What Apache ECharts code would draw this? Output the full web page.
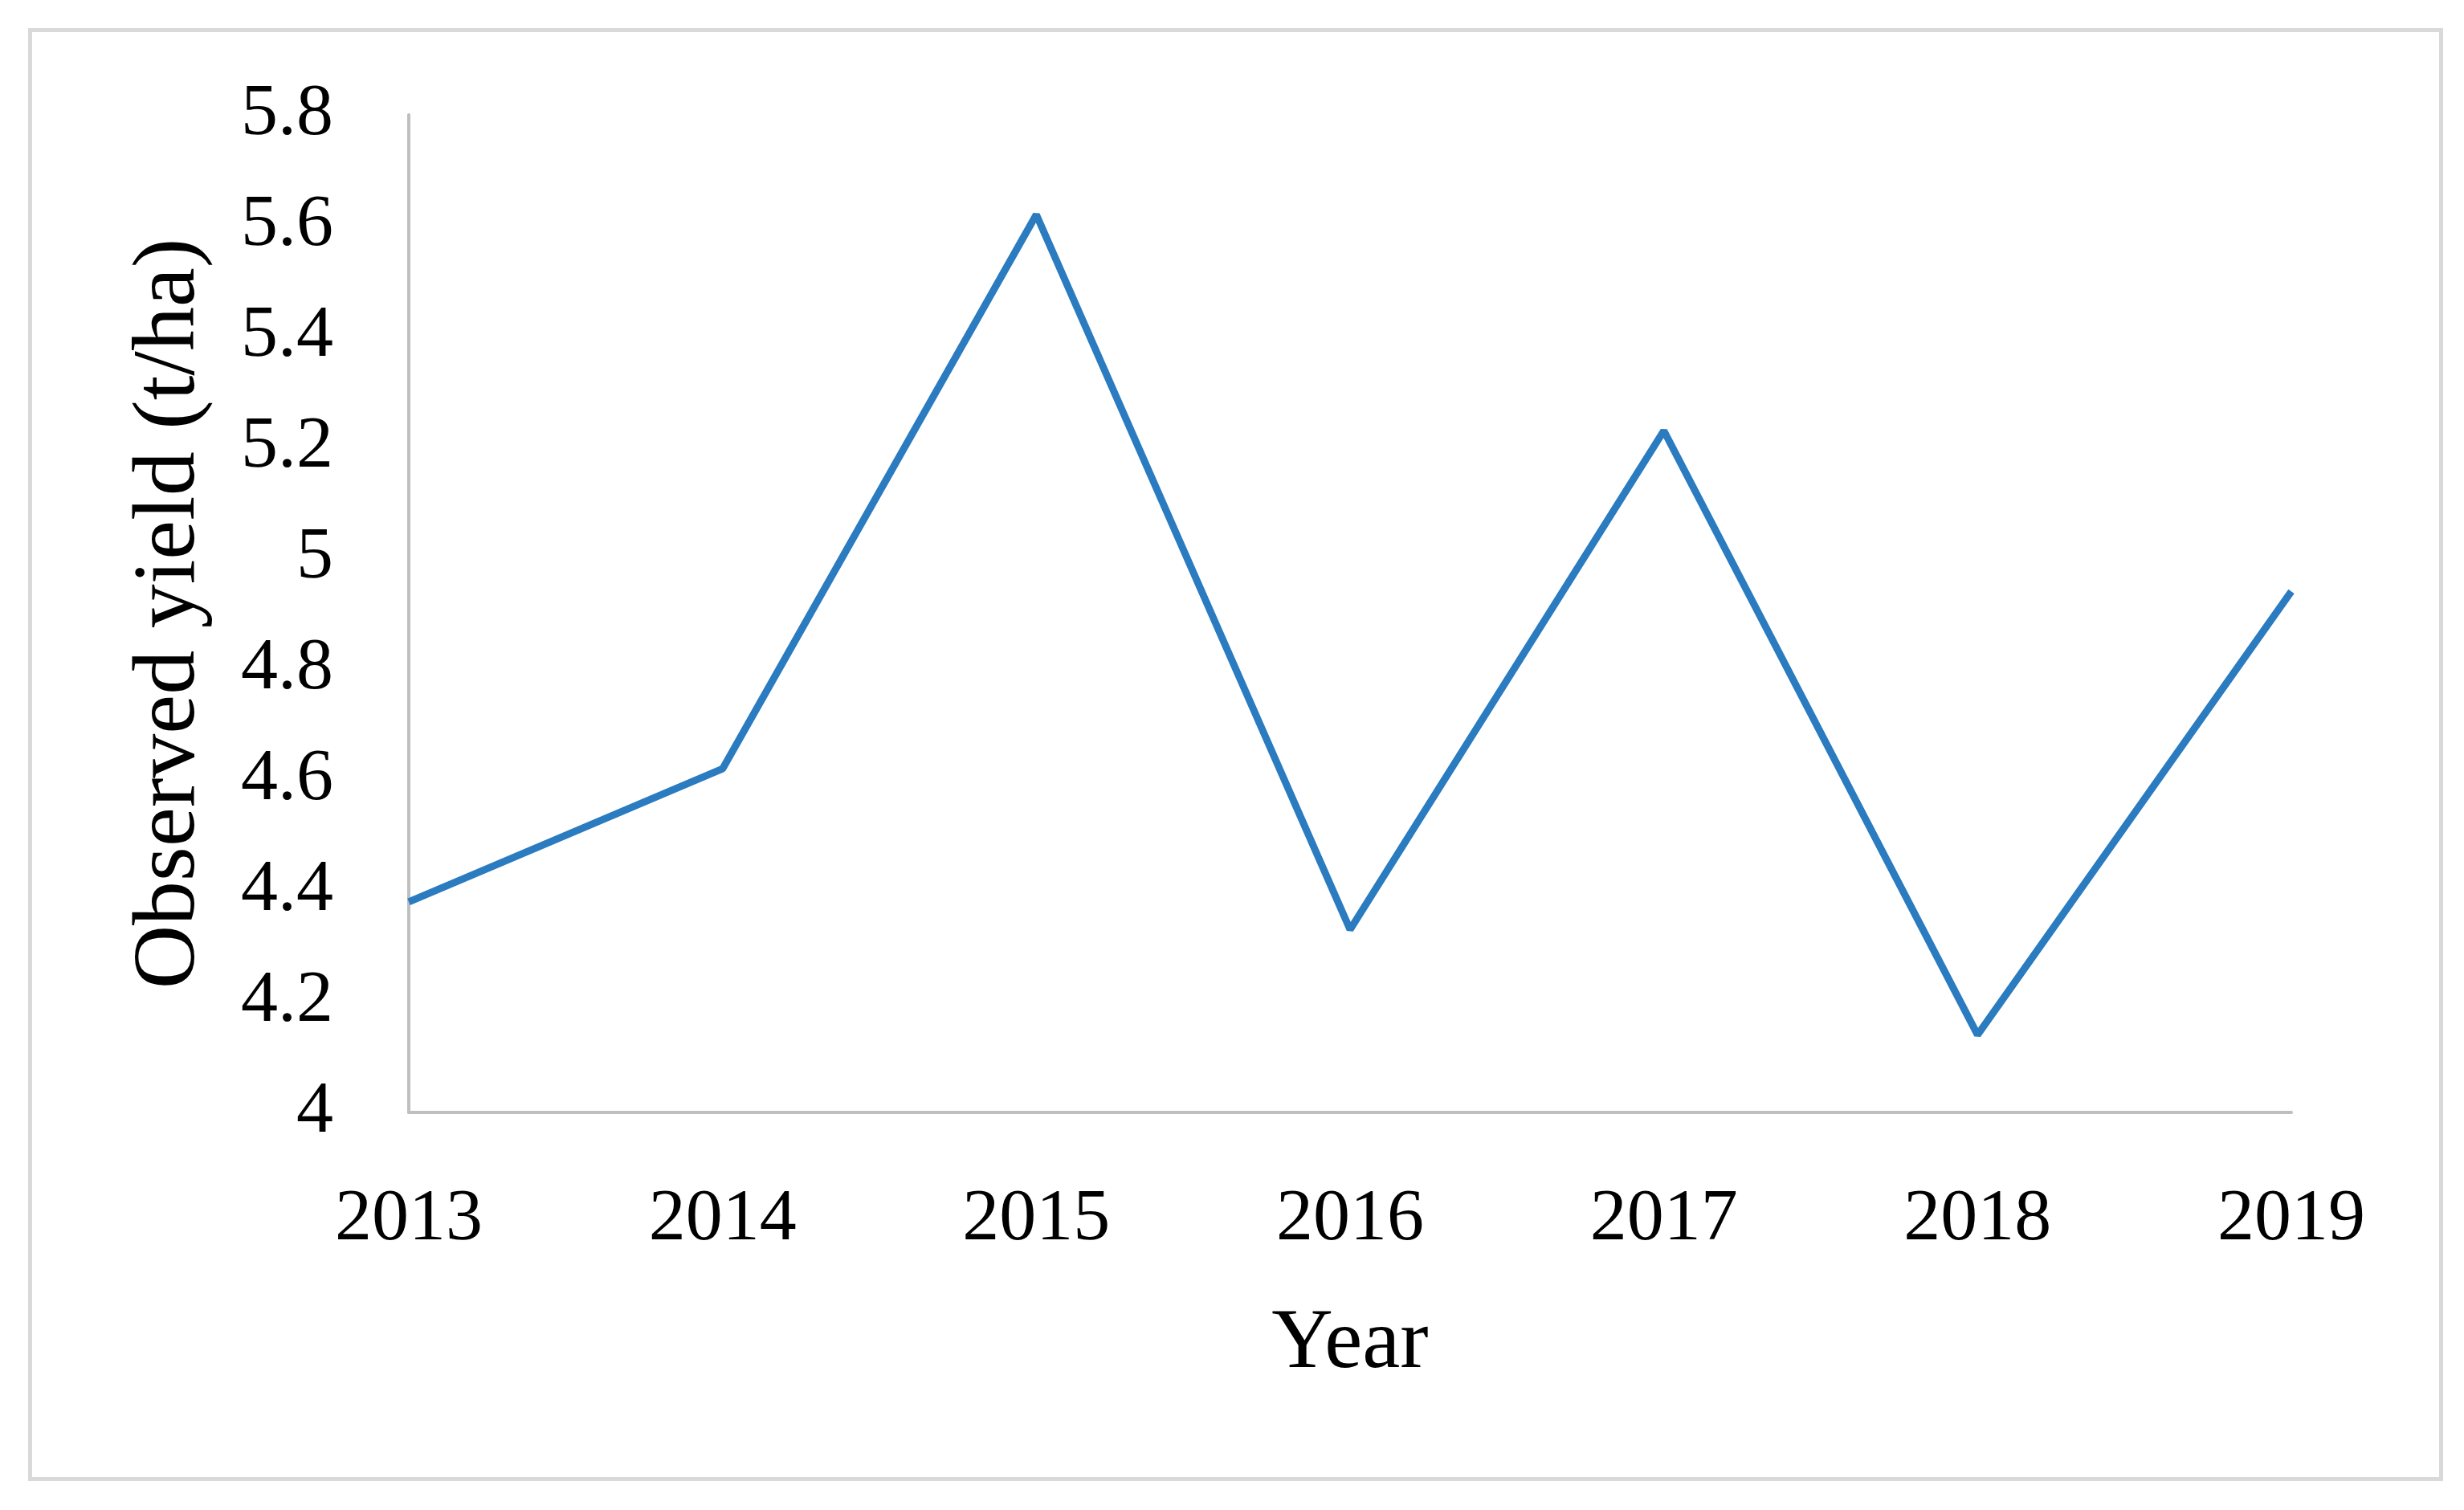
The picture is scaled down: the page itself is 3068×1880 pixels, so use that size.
<!DOCTYPE html>
<html><head><meta charset="utf-8">
<script src="https://cdn.jsdelivr.net/npm/echarts@6/dist/echarts.min.js"></script>
<style>html,body{margin:0;padding:0;background:#fff}#c{width:3068px;height:1880px}</style>
</head><body><div id="c"></div>
<script>
const years = ['2013','2014','2015','2016','2017','2018','2019'];
const observedYield = [4.38, 4.62, 5.62, 4.33, 5.23, 4.14, 4.94];
const yMin = 4, yMax = 5.8, yStep = 0.2;

const font = '"Liberation Serif","DejaVu Serif",serif';
const chart = echarts.init(document.getElementById('c'));
chart.setOption({
  backgroundColor: '#fff',
  animation: false,
  graphic: [{
    type: 'rect', left: 35, top: 35,
    shape: { width: 3002, height: 1804 },
    style: { fill: 'none', stroke: '#d9d9d9', lineWidth: 5 }
  }],
  grid: { left: 509, right: 3068 - 2853, top: 143, bottom: 1880 - 1385, containLabel: false },
  xAxis: {
    type: 'category', data: years, boundaryGap: false,
    name: 'Year', nameLocation: 'middle', nameGap: 236,
    nameTextStyle: { fontFamily: font, fontSize: 106, color: '#000' },
    axisLine: { lineStyle: { color: '#bfbfbf', width: 4 } },
    axisTick: { show: false },
    axisLabel: { fontFamily: font, fontSize: 92, color: '#000', margin: 88 },
    splitLine: { show: false }
  },
  yAxis: {
    type: 'value', min: yMin, max: yMax, interval: yStep,
    name: 'Observed yield (t/ha)', nameLocation: 'middle', nameGap: 242, nameRotate: 90,
    nameTextStyle: { fontFamily: font, fontSize: 110, color: '#000' },
    axisLine: { show: true, lineStyle: { color: '#bfbfbf', width: 4 } },
    axisTick: { show: false },
    axisLabel: { fontFamily: font, fontSize: 92, color: '#000', margin: 94,
      formatter: v => String(Math.round(v * 10) / 10) },
    splitLine: { show: false }
  },
  series: [{
    type: 'line', data: observedYield, symbol: 'none',
    lineStyle: { color: '#2A7BBF', width: 9 },
    itemStyle: { color: '#2A7BBF' }
  }]
});
</script></body></html>
